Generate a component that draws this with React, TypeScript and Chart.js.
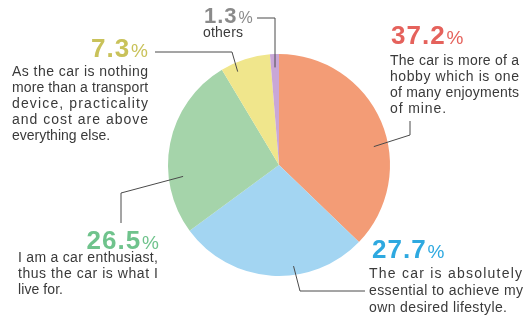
import React, { useEffect, useRef } from "react";
import { Chart, registerables } from "chart.js";

Chart.register(...registerables);

// ---- data ----
const categories = [
  "The car is more of a hobby which is one of many enjoyments of mine.",
  "The car is absolutely essential to achieve my own desired lifestyle.",
  "I am a car enthusiast, thus the car is what I live for.",
  "As the car is nothing more than a transport device, practicality and cost are above everything else.",
  "others",
];
const shares = [37.2, 27.7, 26.5, 7.3, 1.3];
const shareLabels = ["37.2", "27.7", "26.5", "7.3", "1.3"];
const descriptionLines = [
  ["The car is more of a", "hobby which is one", "of many enjoyments", "of mine."],
  ["The car is absolutely", "essential to achieve my", "own desired lifestyle."],
  ["I am a car enthusiast,", "thus the car is what I", "live for."],
  ["As the car is nothing", "more than a transport", "device, practicality", "and cost are above", "everything else."],
  ["others"],
];

// ---- styles ----
const sliceColors = ["#f39c76", "#a3d5f2", "#a5d4aa", "#f0e68c", "#c9a7d7"];
const labelColors = ["#e5625c", "#2ea9e0", "#6fc38c", "#c9c25a", "#8a8a8a"];
const TEXT = "#3a3a3a";
const LINE = "#4a4a4a";

// layout of annotations (per slice)
type Layout = {
  t: number;
  rf: number;
  path: (sx: number, sy: number) => [number, number][];
  numX: number;
  numY: number;
  align: "left" | "right";
  numSize: number;
  pctSize: number;
  textX: number;
  textY: number;
  widths: number[];
  lineH: number;
};

const layouts: Layout[] = [
  {
    t: 0.59, rf: 0.87,
    path: () => [[410, 135], [410, 121]],
    numX: 391, numY: 44, align: "left", numSize: 26, pctSize: 19,
    textX: 390, textY: 65, widths: [129, 129, 129, 56], lineH: 16,
  },
  {
    t: 0.38, rf: 0.92,
    path: () => [[300, 291], [365, 291]],
    numX: 372, numY: 258, align: "left", numSize: 26, pctSize: 19,
    textX: 369, textY: 278, widths: [153, 154, 138], lineH: 17,
  },
  {
    t: 0.31, rf: 0.87,
    path: () => [[121, 193], [121, 223]],
    numX: 159, numY: 249, align: "right", numSize: 26, pctSize: 19,
    textX: 18, textY: 262, widths: [140, 140, 45], lineH: 16,
  },
  {
    t: 0.27, rf: 0.92,
    path: () => [[232, 52], [155, 52]],
    numX: 148, numY: 57, align: "right", numSize: 26, pctSize: 19,
    textX: 12, textY: 76, widths: [136, 136, 136, 136, 98], lineH: 16,
  },
  {
    t: 0.5, rf: 0.88,
    path: (sx) => [[sx, 18], [257, 18]],
    numX: 204, numY: 23, align: "left", numSize: 22, pctSize: 16,
    textX: 203, textY: 37, widths: [40], lineH: 16,
  },
];

const FONT = '"Liberation Sans", Arial, sans-serif';

const annotationPlugin = {
  id: "annotations",
  afterDraw(chart: any) {
    const ctx: CanvasRenderingContext2D = chart.ctx;
    const meta = chart.getDatasetMeta(0);
    meta.data.forEach((arc: any, i: number) => {
      const L = layouts[i];
      if (!L) return;
      const p = arc.getProps(["x", "y", "startAngle", "endAngle", "outerRadius"], true);
      const a = p.startAngle + (p.endAngle - p.startAngle) * L.t;
      const sx = p.x + Math.cos(a) * p.outerRadius * L.rf;
      const sy = p.y + Math.sin(a) * p.outerRadius * L.rf;
      ctx.save();
      ctx.strokeStyle = LINE;
      ctx.lineWidth = 1;
      ctx.beginPath();
      ctx.moveTo(sx, sy);
      L.path(sx, sy).forEach(([x, y]) => ctx.lineTo(x, y));
      ctx.stroke();

      // percentage
      ctx.fillStyle = labelColors[i];
      ctx.textBaseline = "alphabetic";
      ctx.textAlign = "left";
      (ctx as any).letterSpacing = "1px";
      ctx.font = `bold ${L.numSize}px ${FONT}`;
      const numW = ctx.measureText(shareLabels[i]).width;
      (ctx as any).letterSpacing = "0px";
      ctx.font = `${L.pctSize}px ${FONT}`;
      const pctW = ctx.measureText("%").width;
      const total = numW + 1 + pctW;
      const x0 = L.align === "left" ? L.numX : L.numX - total;
      (ctx as any).letterSpacing = "1px";
      ctx.font = `bold ${L.numSize}px ${FONT}`;
      ctx.fillText(shareLabels[i], x0, L.numY);
      (ctx as any).letterSpacing = "0px";
      ctx.font = `${L.pctSize}px ${FONT}`;
      ctx.fillText("%", x0 + numW + 1, L.numY);

      // description, fitted to target widths
      ctx.fillStyle = TEXT;
      ctx.font = `14px ${FONT}`;
      descriptionLines[i].forEach((line, k) => {
        (ctx as any).letterSpacing = "0px";
        const natural = ctx.measureText(line).width;
        const target = L.widths[k] ?? natural;
        const n = Math.max(1, line.length - 1);
        const ls = (target - natural) / n;
        (ctx as any).letterSpacing = `${ls.toFixed(2)}px`;
        ctx.fillText(line, L.textX, L.textY + k * L.lineH);
      });
      (ctx as any).letterSpacing = "0px";
      ctx.restore();
    });
  },
};

export default function App() {
  const ref = useRef<HTMLCanvasElement | null>(null);

  useEffect(() => {
    document.body.style.margin = "0";
    const canvas = ref.current;
    if (!canvas) return;
    const chart = new Chart(canvas, {
      type: "pie",
      data: {
        labels: categories,
        datasets: [
          {
            data: shares,
            backgroundColor: sliceColors,
            borderWidth: 0,
          },
        ],
      },
      options: {
        responsive: false,
        animation: false,
        events: [],
        layout: { padding: { left: 168, right: 135, top: 54, bottom: 40 } },
        plugins: {
          legend: { display: false },
          tooltip: { enabled: false },
          title: { display: false },
        },
      },
      plugins: [annotationPlugin],
    });
    return () => chart.destroy();
  }, []);

  return (
    <div style={{ width: 525, height: 316, background: "#ffffff" }}>
      <canvas ref={ref} width={525} height={316} style={{ display: "block" }} />
    </div>
  );
}
